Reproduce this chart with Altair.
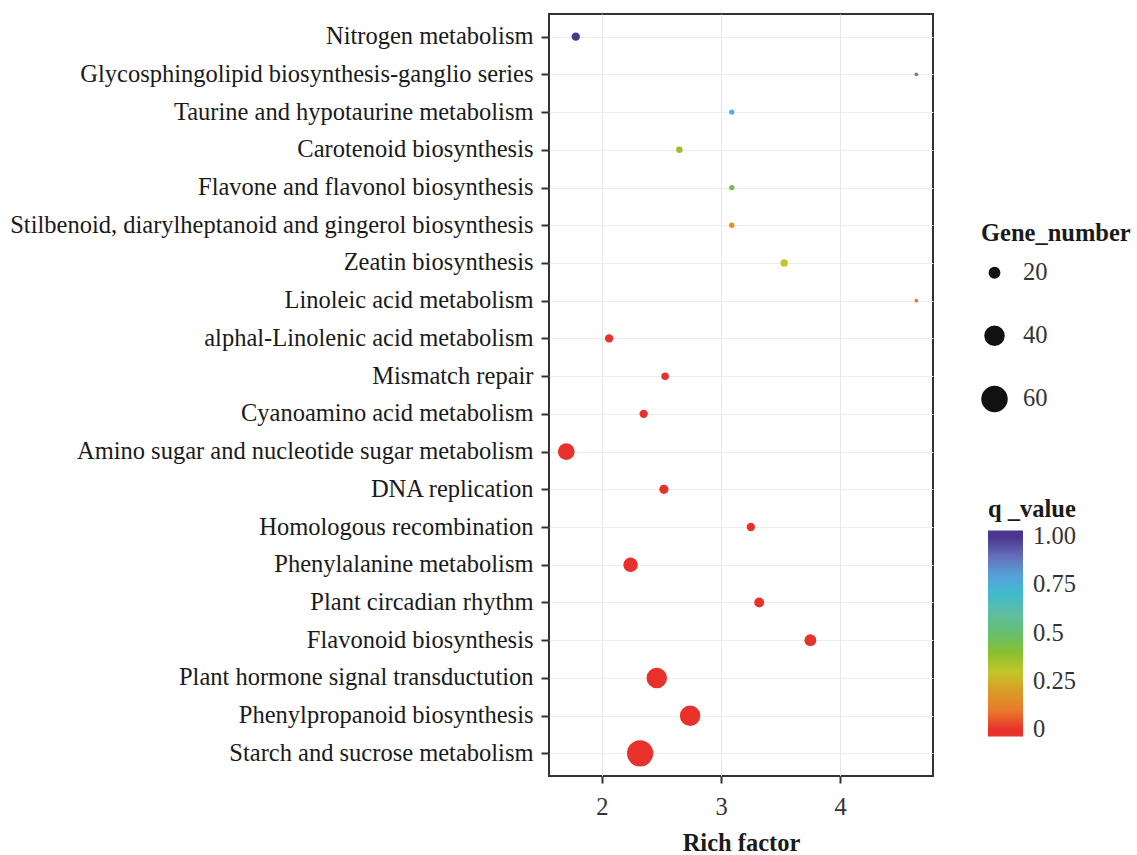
import altair as alt
import pandas as pd

categories = [
    "Nitrogen metabolism",
    "Glycosphingolipid biosynthesis-ganglio series",
    "Taurine and hypotaurine metabolism",
    "Carotenoid biosynthesis",
    "Flavone and flavonol biosynthesis",
    "Stilbenoid, diarylheptanoid and gingerol biosynthesis",
    "Zeatin biosynthesis",
    "Linoleic acid metabolism",
    "alphal-Linolenic acid metabolism",
    "Mismatch repair",
    "Cyanoamino acid metabolism",
    "Amino sugar and nucleotide sugar metabolism",
    "DNA replication",
    "Homologous recombination",
    "Phenylalanine metabolism",
    "Plant circadian rhythm",
    "Flavonoid biosynthesis",
    "Plant hormone signal transductution",
    "Phenylpropanoid biosynthesis",
    "Starch and sucrose metabolism",
]
rich_factor = [1.78, 4.64, 3.09, 2.65, 3.09, 3.09, 3.53, 4.64, 2.06, 2.53,
               2.35, 1.70, 2.52, 3.25, 2.24, 3.32, 3.75, 2.46, 2.74, 2.32]
gene_number = [15, 11, 12, 13, 12, 12, 14, 11, 15, 14,
               15, 30, 16, 15, 25, 17, 20, 40, 40, 59]
q_value = [1.0, 0.88, 0.72, 0.38, 0.45, 0.15, 0.3, 0.1, 0.0, 0.0,
           0.0, 0.0, 0.0, 0.0, 0.0, 0.0, 0.0, 0.0, 0.0, 0.0]

color_stops = [-0.035, 0.0, 0.12, 0.24, 0.3, 0.42, 0.58, 0.75, 0.87, 1.0, 1.035]
color_range = ["#e8312b", "#e8312b", "#e8852e", "#d2a52c", "#c3c62a", "#7dbd33",
               "#6bbc98", "#4cb7df", "#6f80c4", "#4b3590", "#4b3590"]

df = pd.DataFrame({
    "pathway": categories,
    "rich": rich_factor,
    "genes": gene_number,
    "q": q_value,
})

FONT = "Liberation Serif"

chart = alt.Chart(df).mark_circle(opacity=1).encode(
    x=alt.X(
        "rich:Q",
        title="Rich factor",
        scale=alt.Scale(domain=[1.555, 4.78], nice=False, zero=False),
        axis=alt.Axis(
            values=[1.5, 2, 2.5, 3, 3.5, 4, 4.5],
            format="d",
            labelExpr="datum.value % 1 === 0 ? datum.label : ''",
            tickOpacity={"condition": {"test": "datum.value % 1 === 0", "value": 1}, "value": 0},
            gridColor={"condition": {"test": "datum.value % 1 === 0", "value": "#e6e6e6"}, "value": "#f2f2f2"},
            gridWidth=1,
            domain=False,
            tickColor="#333333",
            tickWidth=2,
            tickSize=7,
            labelFont=FONT,
            labelFontSize=24.5,
            labelColor="#333333",
            labelPadding=12,
            titleFont=FONT,
            titleFontSize=24.5,
            titleFontWeight="bold",
            titleColor="#1a1a1a",
            titlePadding=13,
        ),
    ),
    y=alt.Y(
        "pathway:N",
        sort=categories,
        title=None,
        scale=alt.Scale(type="point", padding=0.6),
        axis=alt.Axis(
            domain=False,
            gridColor="#ececec",
            gridWidth=1,
            grid=True,
            tickColor="#333333",
            tickWidth=2,
            tickSize=8,
            labelFont=FONT,
            labelFontSize=24.5,
            labelColor="#1a1a1a",
            labelPadding=8,
            labelLimit=700,
        ),
    ),
    size=alt.Size(
        "genes:Q",
        title="Gene_number",
        scale=alt.Scale(domain=[10, 60], range=[0, 700]),
        legend=alt.Legend(
            values=[20, 40, 60],
            orient="none",
            legendX=432,
            legendY=208,
            symbolFillColor="#111111",
            symbolStrokeColor="#111111",
            symbolStrokeWidth=0,
            symbolOpacity=1,
            titleFont=FONT,
            titleFontSize=24.5,
            titleFontWeight="bold",
            titleColor="#1a1a1a",
            titlePadding=14,
            labelFont=FONT,
            labelFontSize=24.5,
            labelColor="#333333",
            labelOffset=15,
            rowPadding=38,
        ),
    ),
    color=alt.Color(
        "q:Q",
        title="q _value",
        scale=alt.Scale(domain=color_stops, range=color_range),
        legend=alt.Legend(
            values=[0, 0.25, 0.5, 0.75, 1],
            labelExpr="datum.value == 1 ? '1.00' : '' + datum.value",
            orient="none",
            legendX=439,
            legendY=484,
            direction="vertical",
            gradientLength=206,
            gradientThickness=35,
            gradientStrokeWidth=0,
            titleFont=FONT,
            titleFontSize=24.5,
            titleFontWeight="bold",
            titleColor="#1a1a1a",
            titlePadding=8,
            labelFont=FONT,
            labelFontSize=24.5,
            labelColor="#333333",
            labelOffset=10,
            labelBaseline="middle",
        ),
    ),
).properties(
    width=384,
    height=762,
    autosize=alt.AutoSizeParams(type="none"),
    padding={"left": 549, "top": 14, "right": 204, "bottom": 79},
    background="white",
).configure_view(
    stroke="#333333",
    strokeWidth=2,
)

chart.save("out.html", embed_options={"renderer": "svg", "actions": False})
